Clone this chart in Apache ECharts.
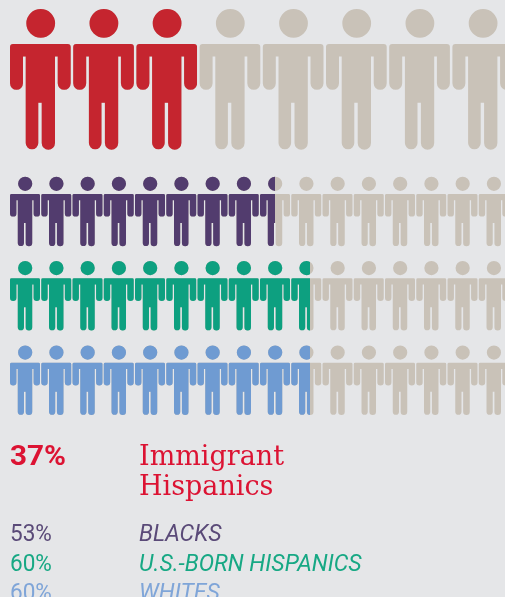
<!DOCTYPE html>
<html>
<head>
<meta charset="utf-8">
<style>html,body{margin:0;padding:0;background:#e5e6e8;overflow:hidden}#c{width:540px;height:597px}</style>
<script src="https://cdn.jsdelivr.net/npm/echarts@6/dist/echarts.min.js"></script>
</head>
<body>
<div id="c"></div>
<script>
// Share of each group, in percent
const groups = ['Immigrant Hispanics', 'Blacks', 'U.S.-born Hispanics', 'Whites'];
const shares = [37, 53, 60, 60];
const peopleInRow = [8, 16, 16, 16];
const labels = ['Immigrant\nHispanics', 'BLACKS', 'U.S.-BORN HISPANICS', 'WHITES'];
const shareLabels = ['37%', '53%', '60%', '60%'];
const markColors = ['#c5252f', '#523c6e', '#0da080', '#6f9bd2'];
const textColors = ['#dc1333', '#5a4a78', '#17a884', '#7fa5d8'];
const restColor = '#c9c2b8';

// Row geometry: top edge, figure size and the full row length
const rows = [
  { top: 9, w: 60.7, h: 140.7, len: 505.6 },
  { top: 176.7, w: 30, h: 69.5, len: 500 },
  { top: 261, w: 30, h: 69.5, len: 500 },
  { top: 345.5, w: 30, h: 69.5, len: 500 }
];
const person = 'path://M16.3 14.4a14.4 14.4 0 1 0 28.8 0a14.4 14.4 0 1 0 -28.8 0Z' +
  'M3 35H57.7Q60.7 35 60.7 38V74.5A6.5 6.5 0 0 1 47.7 74.5V47.7H45V134.4A6.65 6.65 0 0 1 31.7 134.4V94H28.3' +
  'V134.4A6.3 6.3 0 0 1 15.7 134.4V47.7H13V74.5A6.5 6.5 0 0 1 0 74.5V38Q0 35 3 35Z';

const grids = [], xAxes = [], yAxes = [], series = [];
groups.forEach((name, i) => {
  const r = rows[i];
  const n = peopleInRow[i];
  const pitch = r.len / n;
  grids.push({ left: 10, top: r.top, width: r.len, height: r.h });
  xAxes.push({ gridIndex: i, type: 'value', min: 0, max: 100, show: false });
  yAxes.push({ gridIndex: i, type: 'category', data: [name], show: false });
  // The last figure has no gap after it, so the repeat spans slightly less than the axis
  const base = {
    type: 'pictorialBar', xAxisIndex: i, yAxisIndex: i, symbol: person,
    symbolSize: [r.w, r.h], symbolRepeat: 'fixed', symbolMargin: pitch - r.w,
    symbolBoundingData: (pitch * (n - 1) + r.w) / r.len * 100,
    symbolPosition: 'start', animation: false, silent: true
  };
  series.push(Object.assign({}, base, { data: [100], z: 1, itemStyle: { color: restColor } }));
  series.push(Object.assign({}, base, { data: [shares[i]], symbolClip: true, z: 2, itemStyle: { color: markColors[i] } }));
});

// Key beneath the figures
const text = (x, y, str, font, fill, scaleX, lh) => ({
  type: 'text', x, y, scaleX: scaleX || 1,
  style: { text: str, font, fill, verticalAlign: 'middle', lineHeight: lh }
});
const keyY = [458, 535.5, 565, 594];
const graphic = [
  text(10, keyY[0], shareLabels[0], 'bold 27px Roboto', textColors[0], 1.1),
  text(139, keyY[0] + 15, labels[0], '27px "DejaVu Serif"', textColors[0], 1, 30)
];
for (let i = 1; i < 4; i++) {
  graphic.push(text(10, keyY[i], shareLabels[i], '23.5px Roboto', textColors[i], 0.96));
  graphic.push(text(139, keyY[i], labels[i], 'italic 23.5px Roboto', textColors[i], 0.98));
}

const chart = echarts.init(document.getElementById('c'), null, { renderer: 'canvas' });
chart.setOption({
  backgroundColor: '#e5e6e8',
  animation: false,
  grid: grids, xAxis: xAxes, yAxis: yAxes, series, graphic
});
</script>
</body>
</html>
